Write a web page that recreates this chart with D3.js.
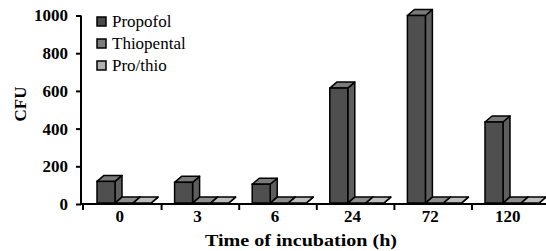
<!DOCTYPE html>
<html><head><meta charset="utf-8">
<script src="https://cdn.jsdelivr.net/npm/d3@7"></script>
<style>body{margin:0;background:#fff}svg{display:block}svg text{font-family:'Liberation Serif','Times New Roman','DejaVu Serif',serif}</style>
</head><body>
<script>
const categories = ["0", "3", "6", "24", "72", "120"];
const propofol = [120, 115, 105, 615, 1000, 435];
const thiopental = [5, 5, 5, 5, 5, 5];
const prothio = [5, 5, 5, 5, 5, 5];
const seriesNames = ["Propofol", "Thiopental", "Pro/thio"];
const yTicks = [0, 200, 400, 600, 800, 1000];

const W = 546, H = 251;
const svg = d3.select("body").append("svg").attr("width", W).attr("height", H);

const x0 = 84, y0 = 204;
const x = d3.scaleBand().domain(categories).range([x0, x0 + 77.6 * 6]);
const xs = d3.scaleBand().domain(seriesNames).range([13, 67]);
const y = d3.scaleLinear().domain([0, 1000]).range([y0, 15.5]);
const dx = 7, dy = -6;

const series = [
  {name: "Propofol", vals: propofol, front: "#4f4f4f", side: "#5e5e5e", top: "#7a7a7a", legend: "#4a4a4a"},
  {name: "Thiopental", vals: thiopental, front: "#7a7a7a", side: "#6e6e6e", top: "#8c8c8c", legend: "#7d7d7d"},
  {name: "Pro/thio", vals: prothio, front: "#a8a8a8", side: "#9a9a9a", top: "#bdbdbd", legend: "#b0b0b0"}
];

// axes
const yAxis = d3.axisLeft(y).tickValues(yTicks).tickFormat(d3.format("d")).tickSize(5).tickPadding(8);
const gy = svg.append("g").attr("transform", "translate(81,0)").call(yAxis);
gy.attr("font-family", null);
gy.select(".domain").attr("stroke-width", 2).attr("d", `M0,${y(1000)}V${y0}`);
gy.selectAll(".tick line").attr("stroke-width", 2);
gy.selectAll("text").attr("font-size", 17).attr("font-weight", "bold").attr("fill", "#000");

// bars
const g = svg.append("g");
categories.forEach((c, i) => {
  series.forEach(s => {
    const v = s.vals[i];
    const bx = x(c) + xs(s.name), bw = xs.bandwidth();
    const top = y(v), bot = y(0) - 1;
    g.append("path").attr("d", `M${bx + bw},${bot}L${bx + bw + dx},${bot + dy}L${bx + bw + dx},${top + dy}L${bx + bw},${top}Z`)
      .attr("fill", s.side).attr("stroke", "#000").attr("stroke-width", 1.5).attr("stroke-linejoin", "round");
    g.append("path").attr("d", `M${bx},${top}L${bx + dx},${top + dy}L${bx + bw + dx},${top + dy}L${bx + bw},${top}Z`)
      .attr("fill", s.top).attr("stroke", "#000").attr("stroke-width", 1.5).attr("stroke-linejoin", "round");
    g.append("rect").attr("x", bx).attr("y", top).attr("width", bw).attr("height", Math.max(0, bot - top))
      .attr("fill", s.front).attr("stroke", "#000").attr("stroke-width", 1.5);
  });
});

// x axis
const xAxis = d3.axisBottom(x).tickSize(0).tickPadding(6);
const gx = svg.append("g").attr("transform", `translate(0,${y0})`).call(xAxis);
gx.attr("font-family", null);
gx.select(".domain").attr("stroke-width", 2).attr("d", `M81,0H${W}`);
gx.selectAll("text").attr("font-size", 17).attr("font-weight", "bold").attr("fill", "#000").attr("dx", -3);
categories.slice(1).forEach(c => {
  gx.append("line").attr("x1", x(c)).attr("x2", x(c)).attr("y1", 0).attr("y2", 6).attr("stroke", "#000").attr("stroke-width", 2);
});
gx.append("line").attr("x1", x0 - 1).attr("x2", x0 - 1).attr("y1", 0).attr("y2", 6).attr("stroke", "#000").attr("stroke-width", 2);

// axis titles
svg.append("text").attr("x", 301).attr("y", 246).attr("text-anchor", "middle")
  .attr("font-size", 17).attr("font-weight", "bold")
  .attr("textLength", 192).attr("lengthAdjust", "spacingAndGlyphs").text("Time of incubation (h)");
svg.append("text").attr("transform", "translate(26,104) rotate(-90)").attr("text-anchor", "middle")
  .attr("font-size", 17).attr("font-weight", "bold").text("CFU");

// legend
const lg = svg.append("g");
series.forEach((s, i) => {
  const ly = 21 + i * 22;
  lg.append("rect").attr("x", 97).attr("y", ly - 4).attr("width", 9).attr("height", 9)
    .attr("fill", s.legend).attr("stroke", "#000").attr("stroke-width", 1.5);
  lg.append("text").attr("x", 112).attr("y", ly + 6).attr("font-size", 17)
    .attr("fill", "#000").text(s.name);
});
</script>
</body></html>
